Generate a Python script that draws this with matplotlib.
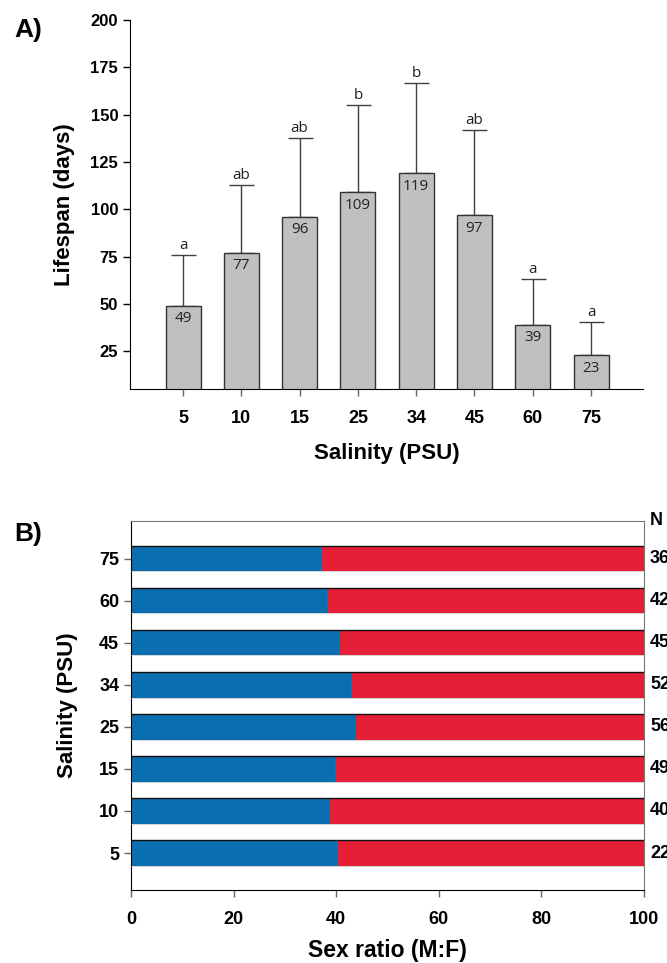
import numpy as np
import matplotlib
matplotlib.use("Agg")
import matplotlib.pyplot as plt
import matplotlib.transforms as mtransforms

plt.rcParams['font.family'] = ['Liberation Sans', 'DejaVu Sans']

# Painel A - longevidade
salinity = ['5', '10', '15', '25', '34', '45', '60', '75']
lifespan = [49, 77, 96, 109, 119, 97, 39, 23]
lifespan_sd = [27, 36, 41.5, 46, 47.5, 44.7, 24, 17.5]
letters = ['a', 'ab', 'ab', 'b', 'b', 'ab', 'a', 'a']

# Painel B - razao sexual (de baixo para cima: 5 ... 75)
male_pct = [40.1, 38.7, 39.8, 43.8, 42.9, 40.7, 38.3, 37.0]
female_pct = [59.9, 61.9, 60.2, 56.2, 57.1, 59.3, 61.7, 63.0]
n_total = [22, 40, 49, 56, 52, 45, 42, 36]

blue = '#0B6EB0'
red = '#E41F36'

fig = plt.figure(figsize=(6.67, 9.63), dpi=100)

# ============================================================================
# A) Lifespan
# ============================================================================
ax = fig.add_axes([0.1949, 0.596, 0.769, 0.3832])
x = np.arange(len(salinity))
ax.bar(x, lifespan, width=0.6, color='#C0C0C0', edgecolor='#333333', linewidth=1, zorder=2)
ax.errorbar(x, lifespan, yerr=[np.zeros(len(x)), lifespan_sd], fmt='none',
            ecolor='#404040', elinewidth=1, capsize=9, capthick=1, zorder=1)

for xi, v, sd, lt in zip(x, lifespan, lifespan_sd, letters):
    ax.annotate(str(v), (xi, v), xytext=(0, -4), textcoords='offset points',
                ha='center', va='top', fontsize=11, family='Open Sans', color='#222222')
    ax.annotate(lt, (xi, v + sd), xytext=(0, 1.5), textcoords='offset points',
                ha='center', va='bottom', fontsize=11, family='Open Sans', color='#222222')

ax.set_xlim(-0.91, 7.89)
ax.set_ylim(5, 200)
ax.set_yticks(np.arange(25, 201, 25))
ax.set_xticks(x)
ax.set_xticklabels(salinity, fontsize=13, weight='bold')
ax.tick_params(axis='y', labelsize=12, direction='out', length=5, width=1)
for lab in ax.get_yticklabels():
    lab.set_fontweight('bold')
ax.tick_params(axis='x', direction='out', length=5, width=1, color='#666666', pad=10)
ax.spines['top'].set_visible(False)
ax.spines['right'].set_visible(False)
ax.set_ylabel('Lifespan (days)', fontsize=16, weight='bold', va='center')
ax.yaxis.set_label_coords(-0.127, 0.5)
ax.set_xlabel('Salinity (PSU)', fontsize=16, weight='bold', va='center')
ax.xaxis.set_label_coords(0.5, -0.176)
fig.text(0.022, 0.969, 'A)', fontsize=19, weight='bold', va='center', ha='left')

# ============================================================================
# B) Sex ratio
# ============================================================================
ax = fig.add_axes([0.1964, 0.0758, 0.769, 0.3832])
y = np.arange(len(salinity))
ax.barh(y, male_pct, height=0.6, color=blue, edgecolor='none', zorder=2)
ax.barh(y, female_pct, left=male_pct, height=0.6, color=red, edgecolor='none', zorder=2)
ax.hlines(y + 0.3, 0, 100, color='#111111', linewidth=1, zorder=3)
ax.hlines(y - 0.3, 0, 100, color='#cccccc', linewidth=0.6, zorder=3)

trans = mtransforms.blended_transform_factory(ax.transAxes, ax.transData)
for yi, n in zip(y, n_total):
    ax.text(1.012, yi, str(n), transform=trans, ha='left', va='center',
            fontsize=13, weight='bold', clip_on=False)
ax.text(1.012, 1.0, 'N', transform=ax.transAxes, ha='left', va='center',
        fontsize=13, weight='bold')

ax.set_xlim(0, 100)
ax.set_ylim(-0.88, 7.9)
ax.set_yticks(y)
ax.set_yticklabels(salinity, fontsize=13, weight='bold')
ax.set_xticks(np.arange(0, 101, 20))
ax.set_xticklabels([str(v) for v in range(0, 101, 20)], fontsize=13, weight='bold')
ax.tick_params(direction='out', length=5, width=1, color='#666666')
ax.tick_params(axis='x', pad=10)
ax.spines['top'].set_color('#777777')
ax.spines['right'].set_color('#777777')
ax.set_xlabel('Sex ratio (M:F)', fontsize=16.5, weight='bold', va='center')
ax.xaxis.set_label_coords(0.5, -0.163)
ax.set_ylabel('Salinity (PSU)', fontsize=16, weight='bold', va='center')
ax.yaxis.set_label_coords(-0.123, 0.5)
fig.text(0.022, 0.446, 'B)', fontsize=19, weight='bold', va='center', ha='left')

plt.savefig('out.png', dpi=100)
